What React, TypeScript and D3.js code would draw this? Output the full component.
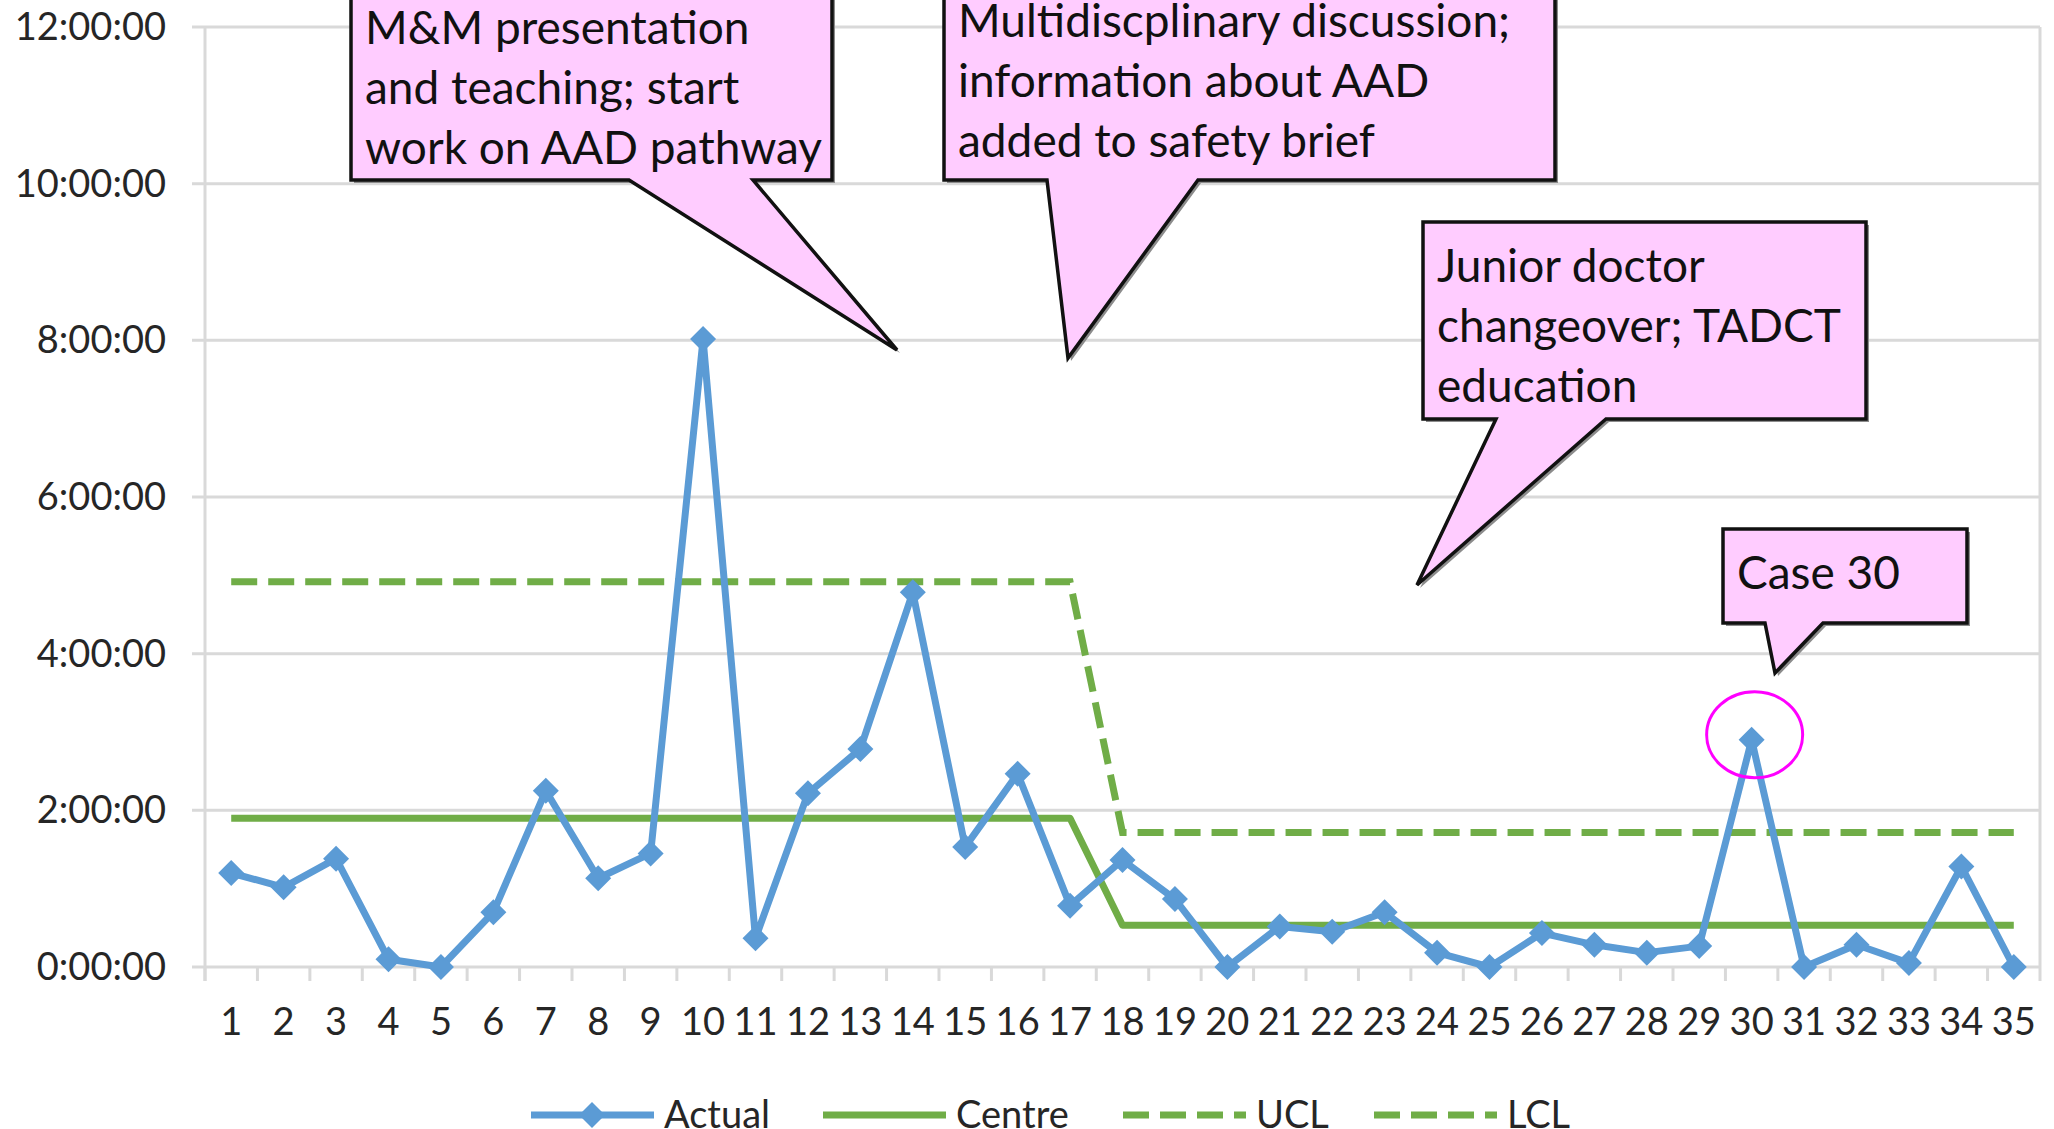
import { useEffect, useRef } from 'react'
import * as d3 from 'd3'

// ── data (case number → time to CT, h:mm) ────────────────────────────────────
const cases = [
  '1', '2', '3', '4', '5', '6', '7', '8', '9', '10', '11', '12', '13', '14', '15', '16', '17', '18',
  '19', '20', '21', '22', '23', '24', '25', '26', '27', '28', '29', '30', '31', '32', '33', '34', '35',
]
const actual = [
  '1:12', '1:01', '1:23', '0:06', '0:00', '0:42', '2:15', '1:08', '1:27', '8:01', '0:22', '2:13',
  '2:47', '4:47', '1:32', '2:28', '0:47', '1:22', '0:52', '0:00', '0:31', '0:27', '0:42', '0:11',
  '0:00', '0:26', '0:17', '0:11', '0:16', '2:54', '0:00', '0:17', '0:03', '1:17', '0:00',
]
const centre = [
  '1:54', '1:54', '1:54', '1:54', '1:54', '1:54', '1:54', '1:54', '1:54', '1:54', '1:54', '1:54',
  '1:54', '1:54', '1:54', '1:54', '1:54', '0:32', '0:32', '0:32', '0:32', '0:32', '0:32', '0:32',
  '0:32', '0:32', '0:32', '0:32', '0:32', '0:32', '0:32', '0:32', '0:32', '0:32', '0:32',
]
const ucl = [
  '4:55', '4:55', '4:55', '4:55', '4:55', '4:55', '4:55', '4:55', '4:55', '4:55', '4:55', '4:55',
  '4:55', '4:55', '4:55', '4:55', '4:55', '1:43', '1:43', '1:43', '1:43', '1:43', '1:43', '1:43',
  '1:43', '1:43', '1:43', '1:43', '1:43', '1:43', '1:43', '1:43', '1:43', '1:43', '1:43',
]
// LCL sits below 0:00:00 and is never visible on the axis → nothing to draw
const lcl: string[] = []
const yTicks = [0, 2, 4, 6, 8, 10, 12]
const legendLabels = ['Actual', 'Centre', 'UCL', 'LCL']
const highlightCase = '30'

// ── layout ───────────────────────────────────────────────────────────────────
const W = 2054
const H = 1129
const PL = 205, PR = 2040, PT = 27, PB = 967
const FONT = 'Lato, "Open Sans", sans-serif'
const C_BLUE = '#5b9bd5'
const C_GREEN = '#70ad47'
const C_GRID = '#d9d9d9'
const C_TXT = '#262626'
const C_NOTE = '#ffccff'

// callouts (pixel layout): box, pointer base on bottom edge, pointer tip
const notes = [
  { lines: ['M&M presentation', 'and teaching; start', 'work on AAD pathway'], x0: 351, x1: 832, y0: -16, y1: 180, b0: 629, b1: 753, tx: 897, ty: 350 },
  { lines: ['Multidiscplinary discussion;', 'information about AAD', 'added to safety brief'], x0: 944, x1: 1555, y0: -23, y1: 180, b0: 1047, b1: 1198, tx: 1068, ty: 358 },
  { lines: ['Junior doctor', 'changeover; TADCT', 'education'], x0: 1423, x1: 1866, y0: 222, y1: 419, b0: 1496, b1: 1606, tx: 1417, ty: 585 },
  { lines: ['Case 30'], x0: 1723, x1: 1967, y0: 529, y1: 623, b0: 1765, b1: 1823, tx: 1775, ty: 673 },
]
const legendX = [531, 823, 1123, 1374]

const hm = (s: string) => { const [h, m] = s.split(':').map(Number); return h + m / 60 }

export default function App() {
  const ref = useRef<SVGSVGElement>(null)

  useEffect(() => {
    if (!ref.current) return
    const svg = d3.select(ref.current)
    svg.selectAll('*').remove()

    const x = d3.scaleBand().domain(cases).range([PL, PR]).padding(0)
    const cx = (c: string) => (x(c) ?? 0) + x.bandwidth() / 2
    const y = d3.scaleLinear().domain([0, 12]).range([PB, PT])

    // ── grid & axes ──────────────────────────────────────────────────────
    svg.append('g')
      .selectAll('line')
      .data(yTicks)
      .join('line')
        .attr('x1', PL - 13).attr('x2', PR)
        .attr('y1', v => y(v)).attr('y2', v => y(v))
        .attr('stroke', C_GRID).attr('stroke-width', 3)

    svg.append('line')
      .attr('x1', PL).attr('x2', PL).attr('y1', PT).attr('y2', PB + 14)
      .attr('stroke', C_GRID).attr('stroke-width', 3)
    svg.append('line')
      .attr('x1', PR).attr('x2', PR).attr('y1', PT).attr('y2', PB + 14)
      .attr('stroke', C_GRID).attr('stroke-width', 3)

    svg.append('g')
      .selectAll('line')
      .data(cases)
      .join('line')
        .attr('x1', c => x(c) ?? 0).attr('x2', c => x(c) ?? 0)
        .attr('y1', PB).attr('y2', PB + 14)
        .attr('stroke', C_GRID).attr('stroke-width', 3)

    svg.append('g')
      .selectAll('text')
      .data(yTicks)
      .join('text')
        .attr('x', 166).attr('y', v => y(v) + 13)
        .attr('text-anchor', 'end')
        .attr('font-family', FONT).attr('font-size', 38).attr('fill', C_TXT)
        .text(v => `${v}:00:00`)

    svg.append('g')
      .selectAll('text')
      .data(cases)
      .join('text')
        .attr('x', c => cx(c)).attr('y', 1035)
        .attr('text-anchor', 'middle')
        .attr('font-family', FONT).attr('font-size', 38).attr('fill', C_TXT)
        .text(c => c)

    // ── series ───────────────────────────────────────────────────────────
    const line = d3.line<[string, string]>()
      .x(d => cx(d[0])).y(d => y(hm(d[1])))

    const zip = (vals: string[]) => cases.map((c, i) => [c, vals[i]] as [string, string]).filter(d => d[1] != null)

    svg.append('path').datum(zip(ucl))
      .attr('fill', 'none').attr('stroke', C_GREEN).attr('stroke-width', 7)
      .attr('stroke-dasharray', '26,11').attr('d', line)
    if (lcl.length) {
      svg.append('path').datum(zip(lcl))
        .attr('fill', 'none').attr('stroke', C_GREEN).attr('stroke-width', 7)
        .attr('stroke-dasharray', '26,11').attr('d', line)
    }
    svg.append('path').datum(zip(centre))
      .attr('fill', 'none').attr('stroke', C_GREEN).attr('stroke-width', 7)
      .attr('stroke-linejoin', 'round').attr('d', line)
    svg.append('path').datum(zip(actual))
      .attr('fill', 'none').attr('stroke', C_BLUE).attr('stroke-width', 7)
      .attr('stroke-linejoin', 'round').attr('d', line)

    const diamond = (px: number, py: number, r: number) =>
      `M${px},${py - r}L${px + r},${py}L${px},${py + r}L${px - r},${py}Z`

    svg.append('g')
      .selectAll('path')
      .data(zip(actual))
      .join('path')
        .attr('d', d => diamond(cx(d[0]), y(hm(d[1])), 13))
        .attr('fill', C_BLUE)

    // ── case 30 highlight ────────────────────────────────────────────────
    const hv = actual[cases.indexOf(highlightCase)]
    svg.append('ellipse')
      .attr('cx', cx(highlightCase) + 3).attr('cy', y(hm(hv)) - 5)
      .attr('rx', 48).attr('ry', 43)
      .attr('fill', 'none').attr('stroke', '#ff00ff').attr('stroke-width', 3)

    // ── callouts ─────────────────────────────────────────────────────────
    const shape = (n: typeof notes[number]) =>
      `M${n.x0},${n.y0}L${n.x1},${n.y0}L${n.x1},${n.y1}L${n.b1},${n.y1}L${n.tx},${n.ty}L${n.b0},${n.y1}L${n.x0},${n.y1}Z`

    notes.forEach(n => {
      const g = svg.append('g')
      g.append('path').attr('d', shape(n)).attr('transform', 'translate(3,3)')
        .attr('fill', '#8c8c8c')
      g.append('path').attr('d', shape(n))
        .attr('fill', C_NOTE).attr('stroke', '#111').attr('stroke-width', 3.5)
        .attr('stroke-linejoin', 'miter')
      g.selectAll('text')
        .data(n.lines)
        .join('text')
          .attr('x', n.x0 + 14).attr('y', (_, i) => n.y0 + 60 + i * 60)
          .attr('font-family', FONT).attr('font-size', 46).attr('fill', '#111')
          .text(t => t)
    })

    // ── legend ───────────────────────────────────────────────────────────
    const LY = 1115
    legendLabels.forEach((lab, i) => {
      const lx = legendX[i]
      const col = i === 0 ? C_BLUE : C_GREEN
      svg.append('line')
        .attr('x1', lx).attr('x2', lx + 123).attr('y1', LY).attr('y2', LY)
        .attr('stroke', col).attr('stroke-width', 7)
        .attr('stroke-dasharray', i >= 2 ? '26,11' : null)
      if (i === 0) svg.append('path').attr('d', diamond(lx + 61, LY, 13)).attr('fill', C_BLUE)
      svg.append('text')
        .attr('x', lx + 133).attr('y', LY + 13)
        .attr('font-family', FONT).attr('font-size', 38).attr('fill', C_TXT)
        .text(lab)
    })
  }, [])

  return (
    <>
      <style>{'body{margin:0;overflow:hidden}'}</style>
      <svg ref={ref} width={W} height={H} viewBox={`0 0 ${W} ${H}`}
        style={{ display: 'block', background: '#fff' }} />
    </>
  )
}
